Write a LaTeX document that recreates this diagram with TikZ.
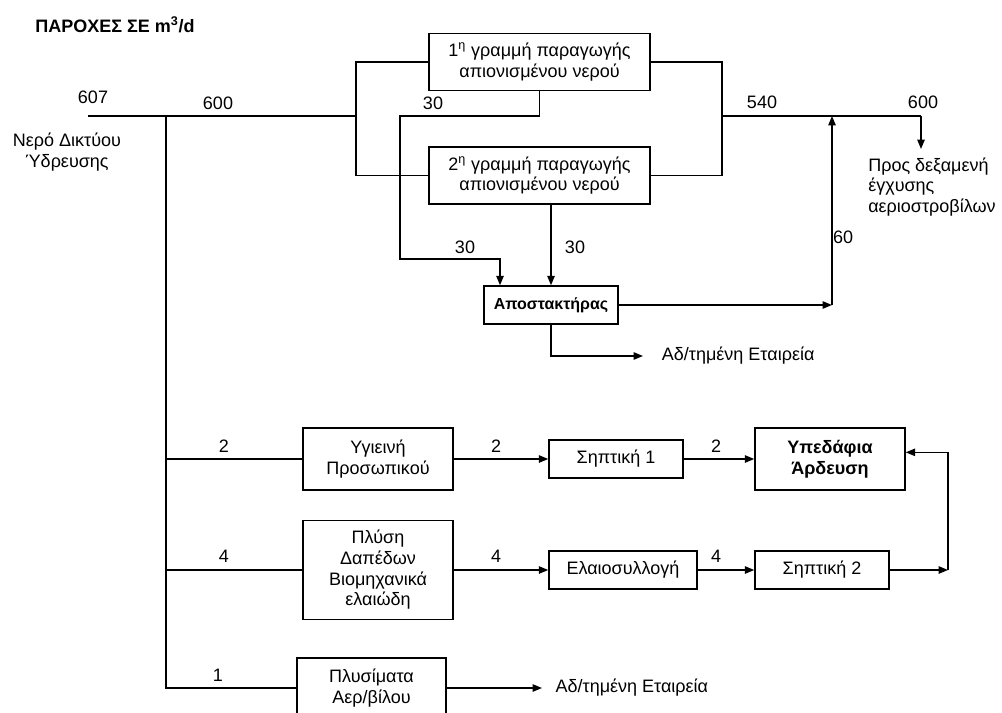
\documentclass[tikz,border=0pt]{standalone}
\usepackage{fontspec}
\setmainfont{Liberation Sans}
\usetikzlibrary{arrows.meta}
\begin{document}
\begin{tikzpicture}[x=0.75pt,y=-0.75pt,
  box/.style={draw, line width=1.1pt, inner sep=0pt, align=center, font=\fontsize{13.5}{15.5}\selectfont},
  sz/.style n args={2}{minimum width=#1*0.75pt, minimum height=#2*0.75pt},
  lbl/.style={inner sep=0pt, font=\fontsize{13.5}{15.5}\selectfont},
  wire/.style={line width=1.1pt},
  arr/.style={line width=1.1pt, -{Triangle[length=7pt,width=5.5pt]}}]
\useasboundingbox (0,0) rectangle (1002,713);

% title
\node[lbl, anchor=west, font=\fontsize{13.5}{15}\selectfont\bfseries] (title) at (35,25) {ΠΑΡΟΧΕΣ ΣΕ m\textsuperscript{3}/d};

% boxes
\node[box, sz={221}{57}] (b1) at (539.5,62) {1\textsuperscript{η} γραμμή παραγωγής\\απιονισμένου νερού};
\node[box, sz={221}{57}] (b2) at (539.5,175.5) {2\textsuperscript{η} γραμμή παραγωγής\\απιονισμένου νερού};
\node[box, sz={134}{38}, font=\fontsize{12}{15}\selectfont\bfseries] (ap) at (551,305) {Αποστακτήρας};
\node[box, sz={150}{62}] (hy) at (378,459) {Υγιεινή\\Προσωπικού};
\node[box, sz={134}{38}] (s1) at (616,459) {Σηπτική 1};
\node[box, sz={150}{62}, font=\fontsize{13.5}{15.5}\selectfont\bfseries] (ud) at (830,459) {Υπεδάφια\\Άρδευση};
\node[box, sz={150}{99}] (pl) at (378,570) {Πλύση\\Δαπέδων\\Βιομηχανικά\\ελαιώδη};
\node[box, sz={148}{38}] (el) at (623,570) {Ελαιοσυλλογή};
\node[box, sz={134}{38}] (s2) at (822,570) {Σηπτική 2};
\node[box, sz={149}{60}] (ps) at (371.5,688) {Πλυσίματα\\Αερ/βίλου};

% free texts
\node[lbl, align=center] (src) at (67,152) {Νερό Δικτύου\\Ύδρευσης};
\node[lbl, align=left, anchor=west] (dest) at (868,187) {Προς δεξαμενή\\έγχυσης\\αεριοστροβίλων};
\node[lbl, anchor=west, inner xsep=14pt] (co1) at (643,356) {Αδ/τημένη Εταιρεία};
\node[lbl, anchor=west, inner xsep=10pt] (co2) at (542,688) {Αδ/τημένη Εταιρεία};

% coordinates
\coordinate (in) at (88,116);
\coordinate (j0) at (166,116);
\coordinate (j1) at (356,116);
\coordinate (j2) at (722,116);
\coordinate (j3) at (921,116);
\coordinate (tk) at (921,149);
\coordinate (m1) at (832,116);
\coordinate (k2) at (400,116);
\coordinate (k3) at (400,259);
\coordinate (k4) at (500,259);
\coordinate (f1) at (948,570);

% top network
\draw[wire] (in) -- (j1);
\draw[wire] (b1.west) -| (j1) |- (b2.west);
\draw[wire] (b1.east) -| (j2) |- (b2.east);
\draw[wire] (j2) -- (j3);
\draw[arr] (j3) -- (tk);
\draw[arr] (b1.south) |- (k2) -- (k3) -| (k4 |- ap.north);
\draw[arr] (b2.south -| ap.north) -- (ap.north);
\draw[arr] (ap.east) -- (ap.east -| m1);
\draw[arr] (ap.east -| m1) -- (m1);
\draw[arr] (ap.south) |- (co1.west);

% lower network
\draw[wire] (j0) |- (ps.west);
\draw[wire] (j0 |- hy.west) -- (hy.west);
\draw[wire] (j0 |- pl.west) -- (pl.west);
\draw[arr] (hy.east) -- (s1.west);
\draw[arr] (s1.east) -- (ud.west);
\draw[arr] (pl.east) -- (el.west);
\draw[arr] (el.east) -- (s2.west);
\draw[arr] (s2.east) -- (f1);
\draw[arr] (f1) |- ([yshift=5pt]ud.east);
\draw[arr] (ps.east) -- (co2.west);

% flow labels
\node[lbl] (l607) at (93,97) {607};
\node[lbl] (l600a) at (218,103) {600};
\node[lbl] (l30a) at (433,103) {30};
\node[lbl] (l540) at (762,102) {540};
\node[lbl] (l600b) at (923,102) {600};
\node[lbl] (l30b) at (465,247) {30};
\node[lbl] (l30c) at (575,247) {30};
\node[lbl] (l60) at (843,237) {60};
\node[lbl] (l2a) at (224,446) {2};
\node[lbl] (l2b) at (496,446) {2};
\node[lbl] (l2c) at (716,446) {2};
\node[lbl] (l4a) at (224,556) {4};
\node[lbl] (l4b) at (496,556) {4};
\node[lbl] (l4c) at (716,556) {4};
\node[lbl] (l1) at (218,675) {1};
\end{tikzpicture}
\end{document}
